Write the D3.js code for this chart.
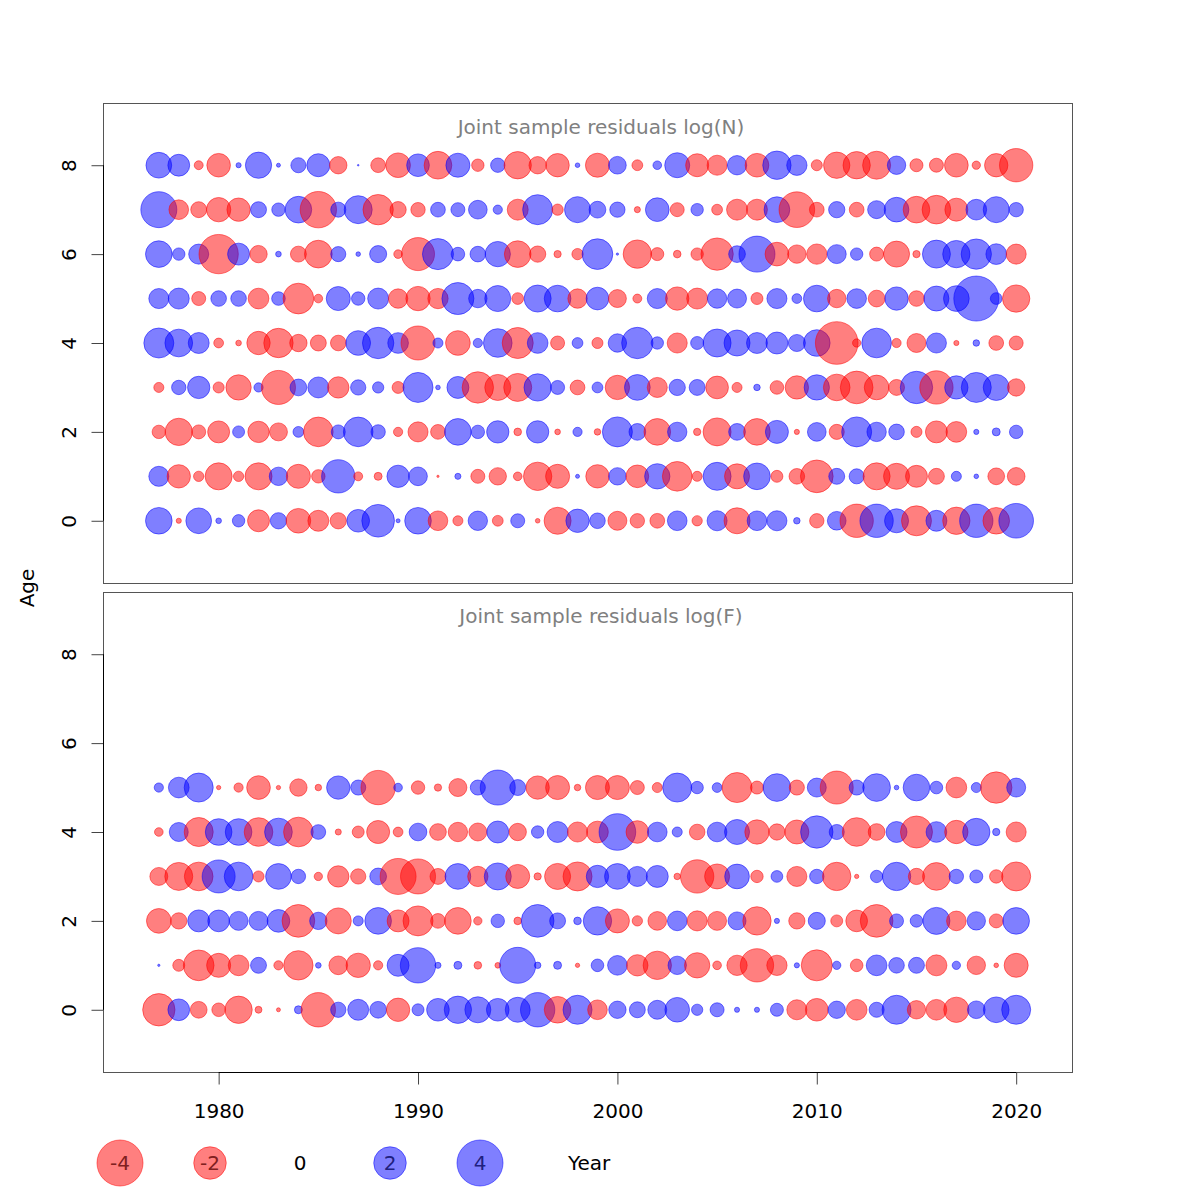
<!DOCTYPE html>
<html>
<head>
<meta charset="utf-8">
<script src="https://cdn.jsdelivr.net/npm/d3@7"></script>
<style>
	body { margin: 0; background: #fff; }
	svg text { font-family: "DejaVu Sans", sans-serif; }
</style>
</head>
<body>
<div class="chart"></div>
<script>
const years = [1977, 1978, 1979, 1980, 1981, 1982, 1983, 1984, 1985, 1986,
	1987, 1988, 1989, 1990, 1991, 1992, 1993, 1994, 1995, 1996,
	1997, 1998, 1999, 2000, 2001, 2002, 2003, 2004, 2005, 2006,
	2007, 2008, 2009, 2010, 2011, 2012, 2013, 2014, 2015, 2016,
	2017, 2018, 2019, 2020];

// residuals log(N), one row per age 0..8
const residN = [
	[1.34,-0.05,1.25,0.06,0.29,-0.91,0.5,-1.15,-0.83,-0.5, 0.97,2.02,0.03,1.34,-0.73,-0.19,0.71,-0.22,0.37,-0.04, -1.38,1.03,0.46,-0.68,-0.39,-0.41,0.73,-0.2,0.76,-1.28, 0.73,0.76,0.08,-0.39,0.66,-2.1,2.1,1.09,-1.7,0.83, -1.41,2.1,-1.34,2.27],
	[0.76,-1.03,-0.2,-1.38,-0.2,-1.38,0.64,-1.09,-0.34,2.1, -0.15,-0.12,0.94,0.66,-0.01,0.07,-0.37,-0.57,-0.14,-1.52, -1.09,0.03,-1.03,0.57,-0.97,1.21,-1.66,-0.19,1.48,-1.18, 1.34,-0.27,-0.46,-2.02,0.48,0.43,-1.38,-1.28,-0.91,-0.48, 0.19,0.04,-0.53,-0.59],
	[-0.34,-1.41,-0.37,-0.91,0.27,-0.86,-0.61,0.22,-1.66,0.37, 1.66,0.39,-0.16,-0.76,-0.41,1.34,0.34,0.94,-0.11,0.94, -0.06,0.16,-0.08,1.7,0.53,-1.34,0.71,-0.1,-1.48,0.53, -1.34,1.0,-0.05,0.66,-0.43,1.7,0.71,0.46,-0.23,-0.91, -0.81,0.05,0.12,0.34],
	[-0.19,0.39,0.94,-0.23,-1.21,0.16,-2.19,0.53,0.83,-0.86, 0.44,0.24,-0.27,1.7,0.04,0.91,-1.86,-1.28,-1.48,1.41, 0.37,-0.41,0.22,-1.12,1.25,-0.76,0.5,0.48,-0.97,-0.19, 0.08,-0.35,-1.03,1.21,-1.34,-2.02,-1.15,-0.48,1.98,-2.1, 1.03,1.7,1.28,-0.57],
	[1.7,1.45,0.83,-0.18,-0.06,-1.03,-1.63,-0.57,-0.48,-0.46, 1.15,1.86,0.81,-2.19,0.19,-1.15,0.16,1.55,-1.82,0.81, -0.37,0.22,-0.23,0.64,1.86,0.29,-0.76,0.32,1.48,1.28, 0.83,0.91,0.55,1.34,-3.44,-0.13,1.66,-0.16,-0.68,0.76, -0.05,0.08,-0.41,-0.37],
	[0.76,0.83,-0.37,0.46,0.46,-0.81,0.35,-1.78,-0.14,1.09, 0.34,0.83,-0.71,-1.12,-0.78,1.94,0.64,1.28,-0.26,1.38, 1.34,-0.71,0.97,-0.61,-0.15,0.76,-1.03,-0.83,0.71,0.68, -0.27,0.76,0.18,1.34,-0.64,0.73,-0.53,1.03,-0.46,1.18, 1.25,3.83,0.26,-1.41],
	[1.34,0.29,0.76,-2.92,0.91,-0.57,0.06,-0.48,-1.45,0.43, 0.04,0.55,-0.14,-2.06,1.82,0.35,0.46,1.21,-1.34,-0.5, -0.1,-0.24,1.78,0.01,-1.52,-0.32,-0.11,-0.29,-1.98,0.53, 2.45,-1.06,-0.64,-0.78,0.68,0.29,-0.37,-1.28,-0.1,1.48, 1.41,1.74,0.81,-0.76],
	[2.45,-0.73,-0.48,-1.12,-1.03,0.48,0.34,1.34,-2.5,0.43, 1.48,-1.74,-0.5,-0.39,0.41,0.37,0.66,0.16,-0.83,1.7, -0.24,1.28,0.53,0.44,-0.07,1.06,-0.37,0.29,-0.22,-0.83, -0.83,1.25,-2.4,-0.41,0.5,-0.41,0.61,1.15,-1.34,-1.55, -1.0,0.81,1.28,0.39],
	[1.25,0.9,-0.15,-1.05,0.05,1.3,0.03,0.43,1.0,-0.57, 0.005,-0.41,-1.15,0.97,-1.45,1.09,-0.29,0.39,-1.41,-0.57, -1.03,0.04,-1.09,0.59,-0.22,0.14,1.18,-1.0,-0.76,0.71, -1.06,1.52,0.78,-0.23,-1.31,-1.41,-1.48,0.64,-0.32,-0.37, -1.06,-0.13,-1.03,-2.1]
];

// residuals log(F), one row per age 0..5
const residF = [
	[-1.98,0.89,-0.53,-0.35,-1.41,-0.09,-0.03,0.12,-2.23,0.44, 0.83,0.53,-1.03,0.27,0.97,1.41,1.28,0.97,1.18,2.23, -1.34,1.59,-0.73,0.57,0.48,0.68,1.15,0.24,0.37,0.05, 0.05,0.32,-0.76,-0.97,0.57,-0.81,0.43,1.59,-0.64,-0.81, -1.21,0.59,1.25,1.59],
	[0.01,-0.27,-1.78,-1.09,-0.81,0.48,-0.16,-1.63,0.06,-0.66, -1.12,-0.16,0.91,2.36,0.07,0.12,-0.11,-0.06,2.45,0.08, 0.12,-0.035,0.3,0.73,-0.86,-1.52,0.64,-1.21,-0.14,-0.78, -2.1,-0.78,0.05,-1.82,0.13,-0.3,0.81,0.46,0.48,-0.83, 0.13,-0.64,-0.04,-1.09],
	[-1.15,-0.5,0.91,0.89,0.68,0.68,0.97,-2.02,0.57,-1.28, 0.19,1.34,-0.91,-1.7,-0.41,-1.34,-0.13,0.34,-0.11,2.02, 0.48,0.11,1.52,-1.09,-0.2,-0.66,0.73,-0.76,-0.68,0.61, -1.52,0.05,-0.5,0.55,-0.27,-0.89,-2.02,0.37,0.3,1.38, -0.73,0.64,-0.37,1.34],
	[-0.61,-1.48,-1.55,2.06,1.55,-0.23,1.25,0.39,-0.13,-0.86, -0.44,0.53,-2.45,-2.32,-0.48,1.25,-0.78,1.38,-1.09,-0.1, -1.28,-1.59,0.94,1.25,0.76,0.91,-0.08,-2.1,-1.18,1.15, -0.29,0.26,-0.76,0.39,-1.52,-0.035,0.29,1.52,-0.5,-1.45, 0.39,0.32,-0.34,-1.59],
	[-0.14,0.68,-1.59,1.34,1.34,-1.55,1.45,-1.66,0.41,-0.07, -0.27,-1.0,-0.18,0.59,-0.53,-0.71,-0.61,0.91,-0.57,0.29, 0.83,-0.76,-0.89,2.54,-0.97,0.73,0.19,-0.46,0.73,1.18, -1.12,-0.5,-1.09,1.98,0.43,-1.55,-0.53,0.83,-1.94,0.81, -1.03,1.41,0.1,-0.76],
	[0.16,0.81,1.59,-0.035,-0.16,-1.06,-0.035,-0.57,-0.08,1.03, 0.43,-2.23,0.14,-0.34,-0.1,-0.61,0.43,2.32,0.48,-1.03, -1.09,-0.08,-1.09,-1.09,-0.37,-0.19,1.59,0.29,0.18,-1.7, -0.32,1.45,-0.43,0.68,-2.06,0.43,1.45,0.04,1.34,0.3, -0.81,0.19,-1.86,0.68]
];

const yearTicks = [1980, 1990, 2000, 2010, 2020];
const ageTicks = [0, 2, 4, 6, 8];
const legendValues = [-4, -2, 0, 2, 4];
const panelTitles = ["Joint sample residuals log(N)", "Joint sample residuals log(F)"];

const posCol = "rgba(0,0,255,0.5)";
const negCol = "rgba(255,0,0,0.5)";

const width = 1200, height = 1200;
const left = 103, right = 1072;
const panels = [{top: 103, bottom: 583, data: residN}, {top: 592, bottom: 1072, data: residF}];

const svg = d3.select("div.chart").append("svg")
	.attr("width", width)
	.attr("height", height);

const x = d3.scaleLinear().domain([1974.2, 2022.8]).range([left, right]);
const r = d3.scaleSqrt().domain([0, 4]).range([0, 23]);

panels.forEach(function(p, pi) {
	const y = d3.scaleLinear().domain([-1.4, 9.4]).range([p.bottom, p.top]);
	const g = svg.append("g").attr("class", "panel p" + pi);

	// bubbles
	const pts = [];
	p.data.forEach((row, age) => row.forEach((v, i) => pts.push({year: years[i], age: age, v: v})));
	g.selectAll("circle.bubble")
		.data(pts)
		.enter().append("circle")
		.attr("class", "bubble")
		.attr("cx", d => x(d.year))
		.attr("cy", d => y(d.age))
		.attr("r", d => r(Math.abs(d.v)))
		.attr("fill", d => d.v < 0 ? negCol : posCol)
		.attr("stroke", d => d.v < 0 ? negCol : posCol)
		.attr("stroke-width", 1);

	// box
	g.append("rect")
		.attr("x", left + 0.5).attr("y", p.top + 0.5)
		.attr("width", right - left).attr("height", p.bottom - p.top)
		.attr("fill", "none").attr("stroke", "#555").attr("stroke-width", 1);

	// y axis
	const ya = g.append("g")
		.attr("transform", "translate(" + (left + 0.5) + ",0)")
		.call(d3.axisLeft(y).tickValues(ageTicks).tickSize(12).tickFormat(d3.format("d")));
	ya.select(".domain").remove();
	ya.selectAll(".tick line").attr("stroke", "#444");
	ya.selectAll(".tick text")
		.attr("x", 0).attr("dy", 0)
		.attr("transform", "translate(-28,0) rotate(-90)")
		.attr("text-anchor", "middle")
		.style("font-size", "20px").attr("fill", "#000");
	ya.append("line")
		.attr("y1", y(ageTicks[0])).attr("y2", y(ageTicks[ageTicks.length - 1]))
		.attr("stroke", "#000");

	// title
	g.append("text")
		.attr("x", 601).attr("y", p.top + 31)
		.attr("text-anchor", "middle")
		.attr("fill", "#808080")
		.style("font-size", "20px")
		.text(panelTitles[pi]);

	// x axis only under the lower panel
	if (pi === panels.length - 1) {
		const xa = g.append("g")
			.attr("transform", "translate(0," + (p.bottom + 0.5) + ")")
			.call(d3.axisBottom(x).tickValues(yearTicks).tickSize(12).tickFormat(d3.format("d")));
		xa.select(".domain").remove();
		xa.selectAll(".tick line").attr("stroke", "#444");
		xa.selectAll(".tick text")
			.attr("y", 45).attr("dy", 0)
			.style("font-size", "20px").attr("fill", "#000");
		xa.append("line")
			.attr("x1", x(yearTicks[0])).attr("x2", x(yearTicks[yearTicks.length - 1]))
			.attr("stroke", "#000");
	}
});

// y label
svg.append("text")
	.attr("transform", "translate(34,588) rotate(-90)")
	.attr("text-anchor", "middle")
	.style("font-size", "20px")
	.text("Age");

// legend row
const lx = d3.scalePoint().domain(legendValues.concat(["Year"])).range([120, 570]);
const ly = 1163;
const leg = svg.append("g").attr("class", "legend");
leg.selectAll("circle")
	.data(legendValues.filter(v => v !== 0))
	.enter().append("circle")
	.attr("cx", d => lx(d))
	.attr("cy", ly)
	.attr("r", d => r(Math.abs(d)))
	.attr("fill", d => d < 0 ? negCol : posCol)
	.attr("stroke", d => d < 0 ? negCol : posCol);
leg.selectAll("text.lab")
	.data(legendValues)
	.enter().append("text")
	.attr("class", "lab")
	.attr("x", d => lx(d))
	.attr("y", ly + 7)
	.attr("text-anchor", "middle")
	.style("font-size", "20px")
	.attr("fill", d => d < 0 ? "#802020" : (d > 0 ? "#202080" : "#000"))
	.text(d => d);
leg.append("text")
	.attr("x", lx("Year") - 2)
	.attr("y", ly + 7)
	.style("font-size", "20px")
	.text("Year");
</script>
</body>
</html>
